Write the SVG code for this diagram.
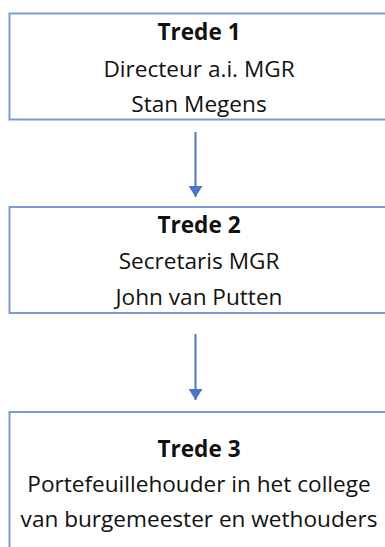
<svg xmlns="http://www.w3.org/2000/svg" width="385" height="547" viewBox="0 0 385 547">
<style>
.box{fill:#ffffff;stroke:#7b9bd8;stroke-width:2}
.t{font-family:"Open Sans","Liberation Sans",sans-serif;font-size:22.6px;fill:#111;text-anchor:middle}
.b{font-weight:bold}
.c{stroke:#4a74c4;stroke-width:2;fill:none}
</style>
<defs>
<marker id="ah" markerWidth="7" markerHeight="7" refX="5.5" refY="3.5" orient="auto" markerUnits="strokeWidth">
<path d="M0,0 L5.5,3.5 L0,7 Z" fill="#4a74c4"/>
</marker>
</defs>
<rect width="385" height="547" fill="#ffffff"/>
<g id="node1">
<rect class="box" x="9.5" y="13.5" width="385" height="106"/>
<text class="t b" x="199" y="40">Trede 1</text>
<text class="t" x="199" y="77">Directeur a.i. MGR</text>
<text class="t" x="199" y="112">Stan Megens</text>
</g>
<g id="node2">
<rect class="box" x="9.5" y="207" width="385" height="106"/>
<text class="t b" x="199" y="233">Trede 2</text>
<text class="t" x="199" y="269">Secretaris MGR</text>
<text class="t" x="199" y="305">John van Putten</text>
</g>
<g id="node3">
<rect class="box" x="9.5" y="412" width="385" height="150"/>
<text class="t b" x="199" y="457">Trede 3</text>
<text class="t" x="199" y="492">Portefeuillehouder in het college</text>
<text class="t" x="199" y="527">van burgemeester en wethouders</text>
</g>
<g id="connectors">
<line class="c" x1="195.5" y1="132" x2="195.5" y2="197" marker-end="url(#ah)"/>
<line class="c" x1="195.5" y1="334" x2="195.5" y2="400" marker-end="url(#ah)"/>
</g>
</svg>
